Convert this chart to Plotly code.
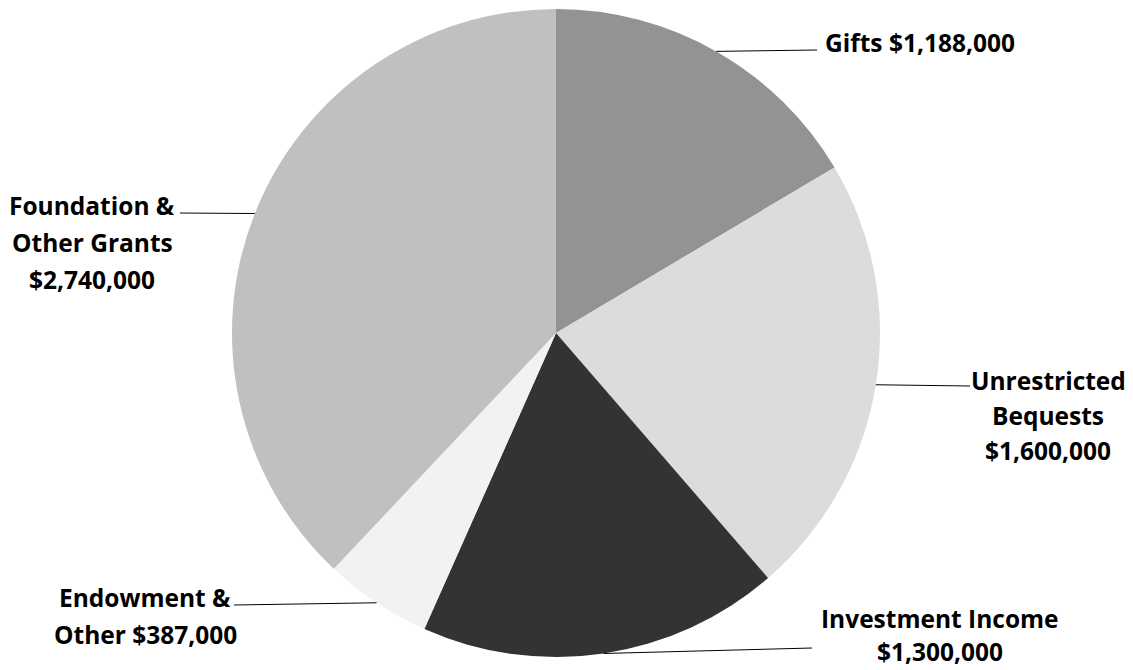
import math
import plotly.graph_objects as go

categories = ["Gifts", "Unrestricted Bequests", "Investment Income",
              "Endowment & Other", "Foundation & Other Grants"]
values = [1188000, 1600000, 1300000, 387000, 2740000]
colors = ["#939393", "#dcdcdc", "#333333", "#f2f2f2", "#c0c0c0"]
label_lines = [
    ["Gifts $1,188,000"],
    ["Unrestricted", "Bequests", "$1,600,000"],
    ["Investment Income", "$1,300,000"],
    ["Endowment &", "Other $387,000"],
    ["Foundation &", "Other Grants", "$2,740,000"],
]

OFF = 8  # default page body margin
W, H = 1133 - OFF, 670 - OFF
cx, cy, R = 556 - OFF, 333 - OFF, 324  # pixel geometry of the pie

# label layout (reference pixels): line end, text center x, first line y, line step
label_layout = [
    dict(lx=817, ly=50, tx=920, ty=42, step=37),
    dict(lx=970, ly=386, tx=1048, ty=380, step=35),
    dict(lx=812, ly=648, tx=940, ty=618, step=33),
    dict(lx=234, ly=605, tx=145, ty=597, step=37),
    dict(lx=180, ly=213, tx=92, ty=205, step=37),
]

fig = go.Figure(go.Pie(
    labels=categories, values=values, sort=False, direction="clockwise",
    rotation=0, marker=dict(colors=colors, line=dict(width=0)),
    textinfo="none", hoverinfo="label+value", showlegend=False,
    domain=dict(x=[(cx - R) / W, (cx + R) / W],
                y=[(H - cy - R) / H, (H - cy + R) / H]),
))

def px(x):
    return x / W

def py(y):
    return 1 - y / H

total = sum(values)
cum = 0
shapes, annotations = [], []
font = dict(family="Open Sans", size=24.5, color="#000000")
for val, lines, lay in zip(values, label_lines, label_layout):
    mid = (cum + val / 2) / total * 2 * math.pi
    cum += val
    sx = cx + R * math.sin(mid)
    sy = cy - R * math.cos(mid)
    shapes.append(dict(type="line", xref="paper", yref="paper",
                       x0=px(sx), y0=py(sy),
                       x1=px(lay["lx"] - OFF), y1=py(lay["ly"] - OFF),
                       line=dict(color="#000000", width=1)))
    for i, t in enumerate(lines):
        annotations.append(dict(
            text="<b>" + t + "</b>", xref="paper", yref="paper",
            x=px(lay["tx"] - OFF), y=py(lay["ty"] - OFF + i * lay["step"]),
            xanchor="center", yanchor="middle", showarrow=False, font=font))

fig.update_layout(width=W, height=H, margin=dict(l=0, r=0, t=0, b=0),
                  paper_bgcolor="white", plot_bgcolor="white",
                  shapes=shapes, annotations=annotations)
fig.write_html("out.html")
